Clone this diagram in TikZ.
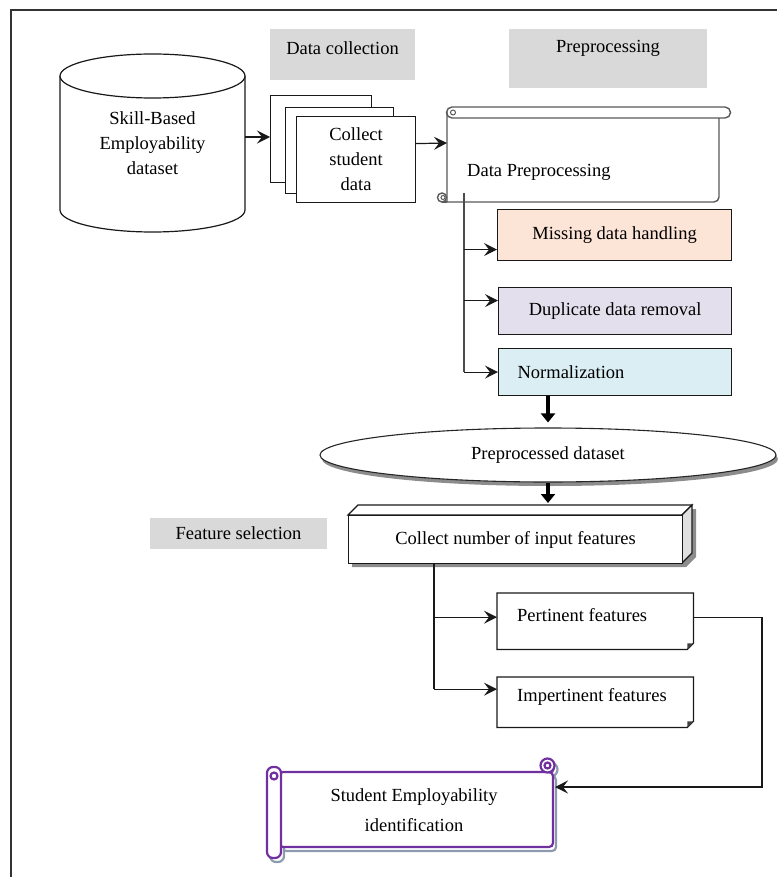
\documentclass[tikz,border=0pt]{standalone}
\usepackage{fontspec}
\setmainfont{Liberation Serif}
\newfontfamily\diagfont{Liberation Serif}
\usetikzlibrary{arrows.meta,shapes.geometric,calc}
\definecolor{peach}{HTML}{FCE4D6}
\definecolor{lav}{HTML}{E4DFEC}
\definecolor{lblue}{HTML}{DAEEF3}
\definecolor{lblgrey}{HTML}{D9D9D9}
\definecolor{purp}{HTML}{7030A0}
\definecolor{shgrey}{HTML}{8E9AAF}
\newcommand\seidscroll[2]{%
  \draw[draw=#1, line width=#2, fill=white, rounded corners=4pt] (279,772) rectangle (553,847);
  \draw[draw=#1, line width=#2, fill=white, rounded corners=6pt] (267,767) rectangle (281,858);
  \draw[draw=#1, line width=#2] (274,776) circle (3.5pt);
  \draw[draw=#1, line width=#2, fill=white] (547.5,765.5) circle (7pt);
  \draw[draw=#1, line width=#2] (547.5,765.5) circle (3pt);
}
\begin{document}
\begin{tikzpicture}[x=1pt,y=-1pt,
  font=\diagfont\fontsize{18.5}{25}\selectfont,
  ln/.style={line width=1.2pt, draw=black!90},
  arr/.style={ln, -{Stealth[length=13pt,width=13pt,inset=5pt]}},
  bigarr/.style={line width=3.2pt, draw=black, -{Triangle[length=9pt,width=14pt]}},
  lbl/.style={fill=lblgrey, inner sep=0},
  docbox/.style={ln, fill=white, anchor=north west, inner sep=0},
  cbox/.style={ln, anchor=north west, inner sep=0},
  fbox/.style={anchor=north west, inner sep=0},
  scr/.style={line width=1.4pt, draw=black!65}]
\useasboundingbox (0,0) rectangle (777,877);

% outer frame
\draw[line width=1.6pt, black!80] (777,10) -- (11,10) -- (11,877);

% stage labels
\node[lbl, anchor=north west, minimum width=145pt, minimum height=51pt] (dcbox) at (270,29) {};
\node (dct) at (342.5,48) {Data collection};
\node[lbl, anchor=north west, minimum width=198pt, minimum height=59pt] (ppbox) at (509,29) {};
\node (ppt) at (608,48) {Preprocessing};
\node[lbl, minimum width=177pt, minimum height=31pt] (fs) at (238.5,533.5) {Feature selection};

% cylinder
\draw[ln, fill=white] (60,76) -- (60,210) arc[start angle=180, end angle=360, x radius=92.5pt, y radius=22pt] -- (245,76);
\draw[ln, fill=white] (152.5,76) ellipse[x radius=92.5pt, y radius=22pt];
\node[align=center] (cyl) at (152.5,143) {Skill-Based\\Employability\\dataset};
\coordinate (cylE) at (245,137);

% stacked documents
\node[docbox, minimum width=101pt, minimum height=87pt] (doc1) at (270,95) {};
\node[docbox, minimum width=108pt, minimum height=86pt] (doc2) at (285,107) {};
\node[docbox, minimum width=119pt, minimum height=86pt, align=center] (col) at (296,116) {Collect\\student\\data};
\draw[arr] (cylE) -- (cylE -| doc1.west);

% data preprocessing scroll
\draw[scr, fill=white] (447,112) -- (447,202) -- (714,202) arc[start angle=270, end angle=360, radius=5pt] -- (719,118);
\draw[scr, fill=white] (452,107) -- (725,107) arc[start angle=90, end angle=-90, radius=5.5pt] -- (452,118);
\draw[scr] (452,118) arc[start angle=-90, end angle=-270, radius=5.5pt];
\draw[scr, line width=1pt] (453,112.5) circle (2.5pt);
\draw[scr] (442,202) -- (447,202);
\draw[scr, fill=white] (442,197.5) circle (4.5pt);
\draw[scr, line width=1pt] (443,197.5) circle (2pt);
\node[anchor=west, inner sep=0] (dp) at (467,172) {Data Preprocessing};
\coordinate (dpW) at (447,143);
\coordinate (dpS) at (464,193);
\draw[arr] ([yshift=16pt]col.east) -- (dpW);

% preprocessing steps
\node[cbox, fill=peach, minimum width=234pt, minimum height=51pt] (miss) at (497,209) {Missing data handling};
\node[cbox, fill=lav, minimum width=233pt, minimum height=47pt] (dup) at (498,287) {Duplicate data removal};
\node[cbox, fill=lblue, minimum width=233pt, minimum height=47pt, text width=195pt, align=left] (norm) at (498,348) {Normalization};
\coordinate (missIn) at ([yshift=-14.5pt]miss.west);
\coordinate (dupIn) at ([yshift=10.5pt]dup.west);
\draw[ln, draw=black!70] (dpS) -- (dpS |- norm.west);
\draw[arr] (dpS |- missIn) -- (missIn);
\draw[arr] (dpS |- dupIn) -- (dupIn);
\draw[arr] (dpS |- norm.west) -- (norm.west);

% preprocessed dataset
\fill[black!45] (550,459) ellipse[x radius=228pt, y radius=27pt];
\node[ellipse, draw=black!85, line width=1.1pt, fill=white, minimum width=456pt, minimum height=54pt, inner sep=0] (ell) at (548,455) {Preprocessed dataset};
\draw[bigarr] (ell.north |- norm.south) -- ([yshift=5pt]ell.north);

% cuboid
\fill[black!45] (352,519) -- (362,509) -- (696,509) -- (696,557) -- (686,567) -- (352,567) -- cycle;
\draw[ln, fill=white] (348,515) -- (358,505) -- (692,505) -- (682,515) -- cycle;
\draw[ln, fill=black!12] (682,515) -- (692,505) -- (692,553) -- (682,563) -- cycle;
\node[ln, fill=white, minimum width=334pt, minimum height=48pt, anchor=north west, inner sep=0] (cube) at (348,515) {Collect number of input features};
\coordinate (cubetop) at (552,503);
\draw[bigarr] (ell.south) -- (ell.south |- cubetop);

% feature boxes
\node[fbox, minimum width=196pt, minimum height=56pt] (pert) at (497,593) {};
\draw[ln] (pert.north west) -- (pert.north east) -- ([yshift=6pt]pert.south east) -- ([xshift=-6pt]pert.south east) -- (pert.south west) -- cycle;
\fill[black!75] ([yshift=6pt]pert.south east) -- ([xshift=-6pt]pert.south east) -- ([shift={(-6pt,6pt)}]pert.south east) -- cycle;
\node[anchor=west, inner sep=0] (pertT) at ([xshift=20pt,yshift=6pt]pert.west) {Pertinent features};

\node[fbox, minimum width=196pt, minimum height=50pt] (imp) at (497,677) {};
\draw[ln] (imp.north west) -- (imp.north east) -- ([yshift=6pt]imp.south east) -- ([xshift=-6pt]imp.south east) -- (imp.south west) -- cycle;
\fill[black!75] ([yshift=6pt]imp.south east) -- ([xshift=-6pt]imp.south east) -- ([shift={(-6pt,6pt)}]imp.south east) -- cycle;
\node[anchor=west, inner sep=0] (impT) at ([xshift=20pt,yshift=5pt]imp.west) {Impertinent features};

\coordinate (cubeS) at ([xshift=86pt]cube.south west);
\coordinate (pertIn) at ([yshift=4pt]pert.west);
\coordinate (impIn) at ([yshift=13pt]imp.west);
\draw[ln] (cubeS) -- (cubeS |- impIn);
\draw[arr] (cubeS |- pertIn) -- (pertIn);
\draw[arr] (cubeS |- impIn) -- (impIn);

% student employability identification scroll
\begin{scope}[shift={(3,4)}]
\seidscroll{shgrey}{2.2pt}
\end{scope}
\seidscroll{purp}{2.2pt}
\node[align=center, font=\diagfont\fontsize{18.5}{30}\selectfont] (seid) at (414,810) {Student Employability\\identification};
\coordinate (rc) at (762,787);
\coordinate (seidE) at (555,787);
\draw[arr] ([yshift=4pt]pert.east) -| (rc) -- (seidE);
\end{tikzpicture}
\end{document}
